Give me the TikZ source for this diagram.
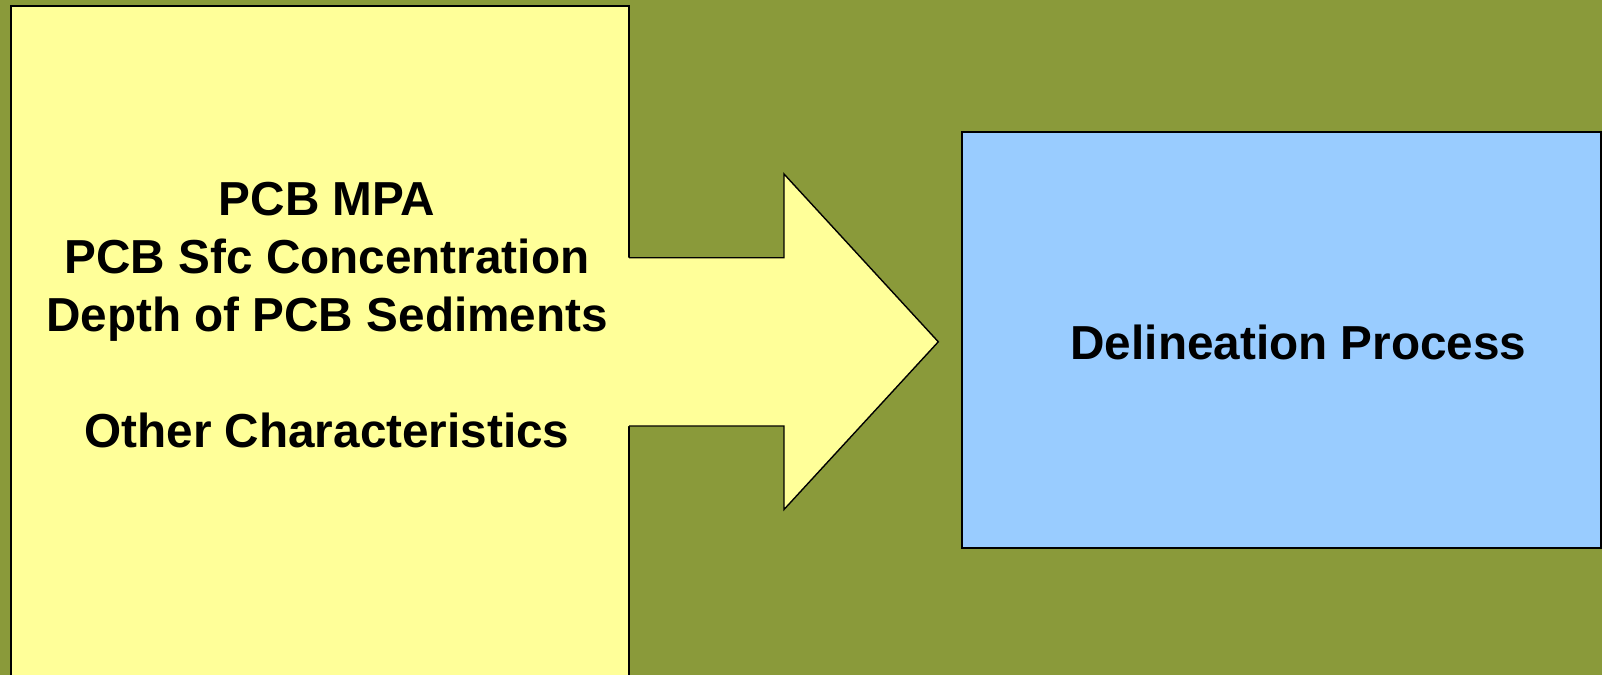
\documentclass[tikz,border=0pt]{standalone}
\usepackage{fontspec}
\setmainfont{Liberation Sans}
\usetikzlibrary{calc}
\definecolor{olive}{RGB}{138,154,58}
\definecolor{paleyellow}{RGB}{255,255,153}
\definecolor{paleblue}{RGB}{153,204,255}
\begin{document}
\begin{tikzpicture}[x=0.5pt,y=-0.5pt,
  boxline/.style={draw=black,line width=1pt},
  lbl/.style={font=\fontsize{23.85}{29}\selectfont\bfseries,text=black,align=center,inner sep=0pt}]
\useasboundingbox (0,0) rectangle (1602,675);
\clip (0,0) rectangle (1602,675);
\fill[olive] (0,0) rectangle (1602,675);
% yellow input box
\draw[boxline,fill=paleyellow] (11,5.5) rectangle (629,720);
% arrow
\coordinate (s1) at (620,257.7);
\coordinate (s2) at (784,257.7);
\coordinate (h1) at (784,174);
\coordinate (tip) at (938.3,341.8);
\coordinate (h2) at (784,509.5);
\coordinate (s3) at (784,426);
\coordinate (s4) at (620,426);
\fill[paleyellow] (s1) -- (s2) -- (h1) -- (tip) -- (h2) -- (s3) -- (s4) -- cycle;
\draw[line width=0.7pt,line join=miter] ($(s1)+(9,0)$) -- (s2) -- (h1) -- (tip) -- (h2) -- (s3) -- ($(s4)+(9,0)$);
% blue box
\node[boxline,fill=paleblue,minimum width=319.5pt,minimum height=208pt,inner sep=0pt,anchor=north west] (blue) at (961,130.7) {};
\node[lbl,anchor=center] (deline) at (1298.5,342) {Delineation Process};
\node[lbl,anchor=center] (inputs) at (327,315) {PCB MPA\\PCB Sfc Concentration\\Depth of PCB Sediments\\[29pt]Other Characteristics};
\end{tikzpicture}
\end{document}
